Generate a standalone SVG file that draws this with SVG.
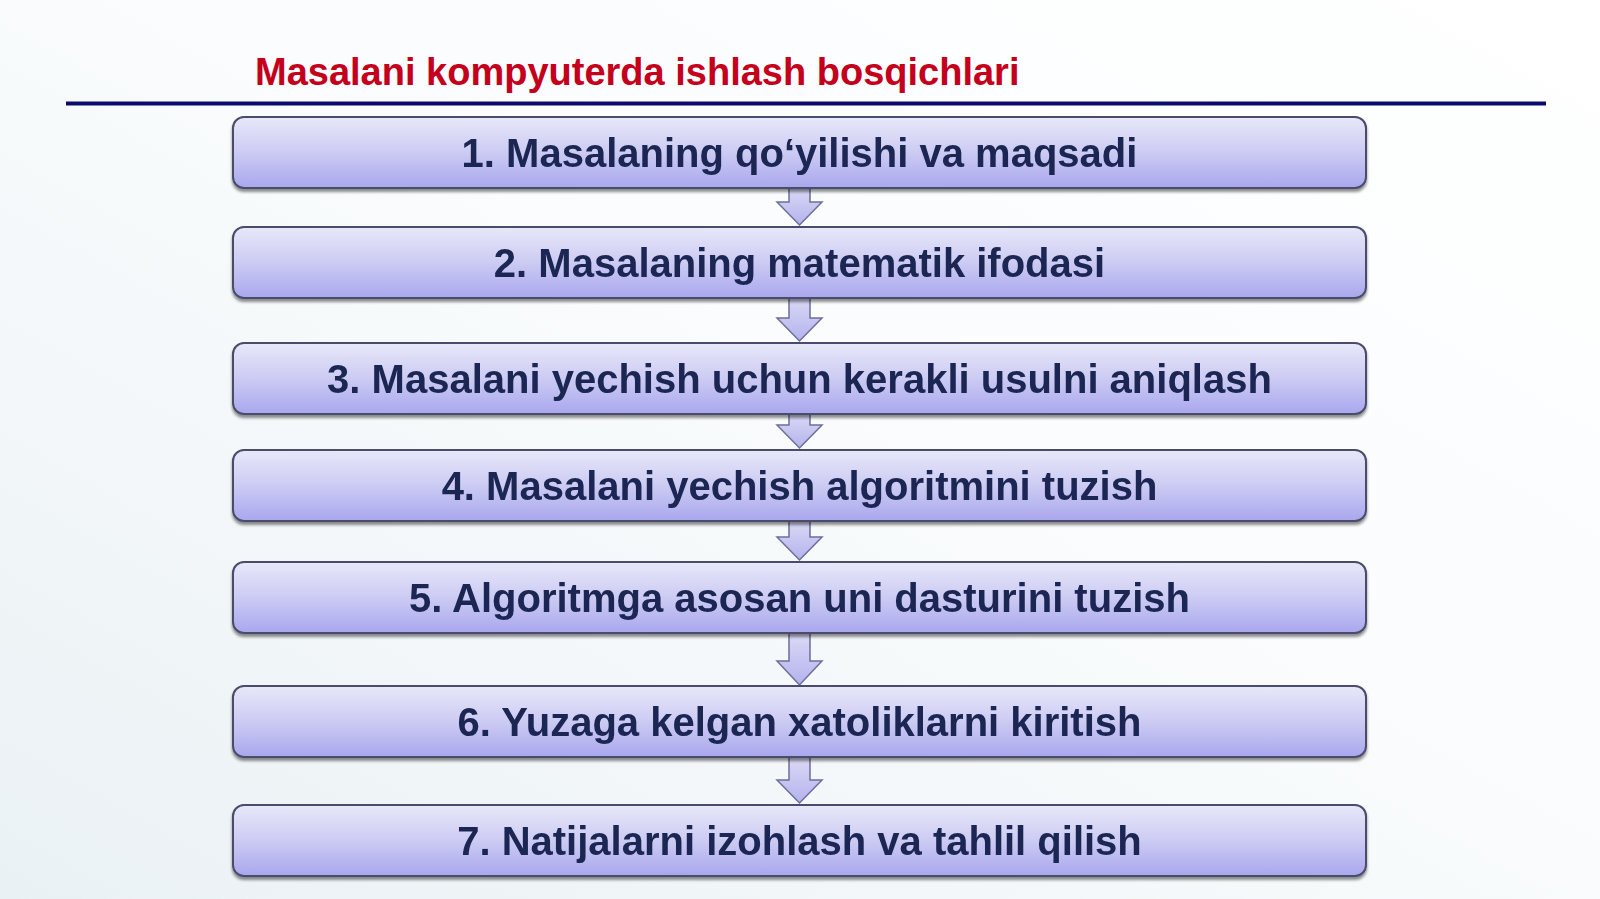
<svg xmlns="http://www.w3.org/2000/svg" width="1600" height="899" viewBox="0 0 1600 899">
<defs>
<linearGradient id="bg" x1="1" y1="0" x2="0" y2="1">
<stop offset="0" stop-color="#FFFFFF"/>
<stop offset="0.45" stop-color="#FAFCFD"/>
<stop offset="1" stop-color="#EAF1F4"/>
</linearGradient>
<linearGradient id="boxg" x1="0" y1="0" x2="0" y2="1">
<stop offset="0" stop-color="#E8E8F9"/>
<stop offset="0.5" stop-color="#CCCBF3"/>
<stop offset="1" stop-color="#A9A7EE"/>
</linearGradient>
<linearGradient id="arrg" x1="0" y1="0" x2="0" y2="1">
<stop offset="0" stop-color="#DCDCF5"/>
<stop offset="1" stop-color="#B4B2EE"/>
</linearGradient>
<filter id="sh" x="-5%" y="-20%" width="110%" height="150%">
<feGaussianBlur in="SourceAlpha" stdDeviation="1.5"/>
<feOffset dx="0" dy="2.5" result="b"/>
<feComponentTransfer><feFuncA type="linear" slope="0.45"/></feComponentTransfer>
<feMerge><feMergeNode/><feMergeNode in="SourceGraphic"/></feMerge>
</filter>
</defs>
<style>
.box{fill:url(#boxg);stroke:#4C4C6C;stroke-width:2}
.lbl{font-family:"Liberation Sans",Arial,sans-serif;font-weight:bold;font-size:40px;fill:#1B2552;text-anchor:middle}
.arr{fill:url(#arrg);stroke:#6E6E9A;stroke-width:1.5;stroke-linejoin:miter}
.title{font-family:"Liberation Sans",Arial,sans-serif;font-weight:bold;font-size:38px;fill:#C4001C}
</style>
<rect x="0" y="0" width="1600" height="899" fill="url(#bg)"/>
<text class="title" x="255" y="85">Masalani kompyuterda ishlash bosqichlari</text>
<line x1="66" y1="103.5" x2="1546" y2="103.5" stroke="#0B0B6E" stroke-width="4"/>
<g id="connectors">
<path class="arr" d="M789,185 H810 V202 H822 L799.5,225 L777,202 H789 Z"/>
<path class="arr" d="M789,295 H810 V318 H822 L799.5,341 L777,318 H789 Z"/>
<path class="arr" d="M789,412 H810 V425 H822 L799.5,448 L777,425 H789 Z"/>
<path class="arr" d="M789,519 H810 V537 H822 L799.5,560 L777,537 H789 Z"/>
<path class="arr" d="M789,631 H810 V661 H822 L799.5,685 L777,661 H789 Z"/>
<path class="arr" d="M789,755 H810 V780 H822 L799.5,803 L777,780 H789 Z"/>
</g>
<g id="n1" filter="url(#sh)"><rect class="box" x="233" y="117" width="1133" height="71" rx="11"/><text class="lbl" x="799.5" y="166.5">1. Masalaning qo‘yilishi va maqsadi</text></g>
<g id="n2" filter="url(#sh)"><rect class="box" x="233" y="227" width="1133" height="71" rx="11"/><text class="lbl" x="799.5" y="276.5">2. Masalaning matematik ifodasi</text></g>
<g id="n3" filter="url(#sh)"><rect class="box" x="233" y="343" width="1133" height="71" rx="11"/><text class="lbl" x="799.5" y="392.5">3. Masalani yechish uchun kerakli usulni aniqlash</text></g>
<g id="n4" filter="url(#sh)"><rect class="box" x="233" y="450" width="1133" height="71" rx="11"/><text class="lbl" x="799.5" y="499.5">4. Masalani yechish algoritmini tuzish</text></g>
<g id="n5" filter="url(#sh)"><rect class="box" x="233" y="562" width="1133" height="71" rx="11"/><text class="lbl" x="799.5" y="611.5">5. Algoritmga asosan uni dasturini tuzish</text></g>
<g id="n6" filter="url(#sh)"><rect class="box" x="233" y="686" width="1133" height="71" rx="11"/><text class="lbl" x="799.5" y="735.5">6. Yuzaga kelgan xatoliklarni kiritish</text></g>
<g id="n7" filter="url(#sh)"><rect class="box" x="233" y="805" width="1133" height="71" rx="11"/><text class="lbl" x="799.5" y="854.5">7. Natijalarni izohlash va tahlil qilish</text></g>
</svg>
